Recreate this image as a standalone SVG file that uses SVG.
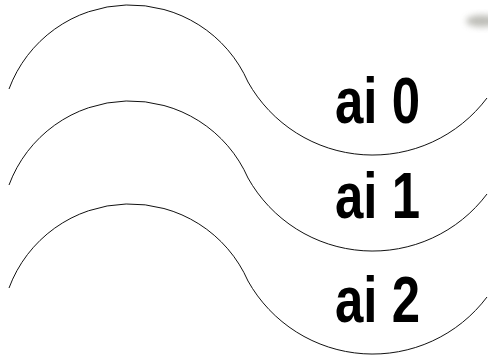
<svg xmlns="http://www.w3.org/2000/svg" width="488" height="355" viewBox="0 0 488 355">
  <defs>
    <filter id="soft" x="-50%" y="-50%" width="200%" height="200%">
      <feGaussianBlur stdDeviation="3"/>
    </filter>
  </defs>
  <style>
    .wave { fill: none; stroke: #111; stroke-width: 1; }
    .label { font-family: "Liberation Sans", Arial, sans-serif; font-weight: bold; font-size: 64px; fill: #000; }
  </style>
  <rect width="488" height="355" fill="#fff"/>
  <!-- faint smudge at the top-right corner -->
  <ellipse cx="482" cy="21" rx="16" ry="6" fill="#a8a8a0" opacity="0.75" filter="url(#soft)"/>
  <g id="wave0">
    <path class="wave" d="M 9,89 A 129 129 0 0 1 248,82 A 143 143 0 0 0 487,98"/>
    <text class="label" x="335" y="123" textLength="85" lengthAdjust="spacingAndGlyphs">ai 0</text>
  </g>
  <g id="wave1" transform="translate(0,96)">
    <path class="wave" d="M 9,89 A 129 129 0 0 1 248,82 A 143 143 0 0 0 487,98"/>
    <text class="label" x="335" y="122" textLength="85" lengthAdjust="spacingAndGlyphs">ai 1</text>
  </g>
  <g id="wave2" transform="translate(0,199)">
    <path class="wave" d="M 9,89 A 129 129 0 0 1 248,82 A 143 143 0 0 0 487,98"/>
    <text class="label" x="335" y="123" textLength="85" lengthAdjust="spacingAndGlyphs">ai 2</text>
  </g>
</svg>
